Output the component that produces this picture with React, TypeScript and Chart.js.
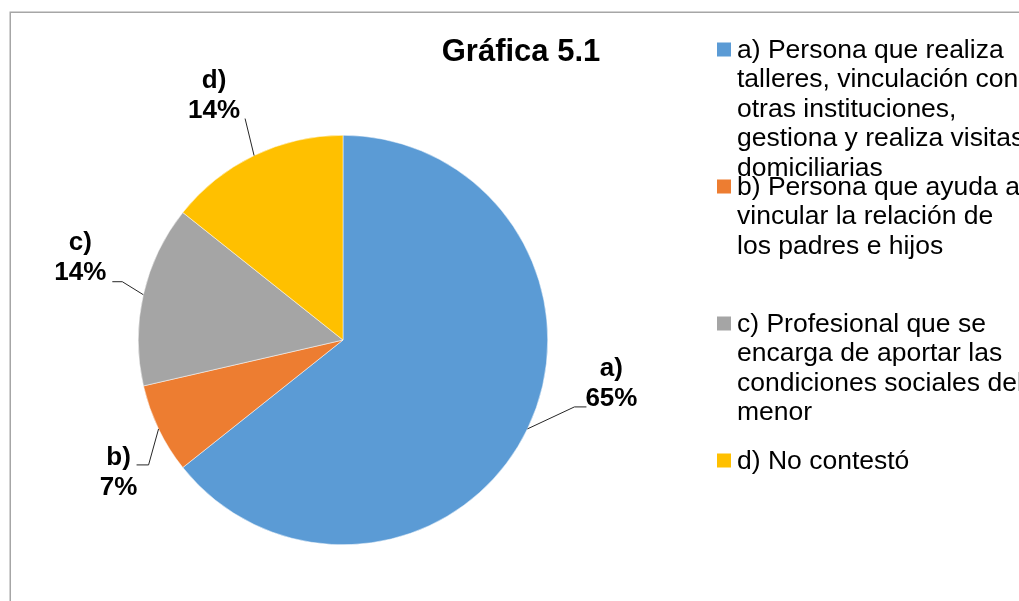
import React, { useEffect, useRef } from "react";
import { Chart, registerables } from "chart.js";

Chart.register(...registerables);

const chartTitle = "Gráfica 5.1";
const categories = [
  "a) Persona que realiza talleres, vinculación con otras instituciones, gestiona y realiza visitas domiciliarias",
  "b) Persona que ayuda a vincular la relación de los padres e hijos",
  "c) Profesional que se encarga de aportar las condiciones sociales del menor",
  "d) No contestó",
];
const shortLabels = ["a)", "b)", "c)", "d)"];
const values = [64.3, 7.1, 14.3, 14.3];
const percentLabels = ["65%", "7%", "14%", "14%"];
const colors = ["#5B9BD5", "#ED7D31", "#A5A5A5", "#FFC000"];

// label block offsets from slice edge mid-point, leader elbow/end relative to label center
const labelOffsets = [
  { dx: 84, dy: -45, ex: -37, ey: 23, hx: -25, hy: 23 },
  { dx: -40, dy: 44, ex: 30, ey: -8, hx: 18, hy: -8 },
  { dx: -63, dy: -37, ex: 42, ey: 24, hx: 32, hy: 24 },
  { dx: -40, dy: -60, ex: 31, ey: 23, hx: 31, hy: 23 },
];

const FONT = "'Liberation Sans', Arial, sans-serif";

function wrap(ctx: CanvasRenderingContext2D, text: string, maxW: number): string[] {
  const words = text.split(" ");
  const lines: string[] = [];
  let line = "";
  for (const w of words) {
    const test = line ? line + " " + w : w;
    if (line && ctx.measureText(test).width > maxW) {
      lines.push(line);
      line = w;
    } else {
      line = test;
    }
  }
  if (line) lines.push(line);
  return lines;
}

const customPlugin = {
  id: "customDecor",
  beforeDraw(chart: any) {
    const ctx = chart.ctx as CanvasRenderingContext2D;
    ctx.save();
    ctx.fillStyle = "#ffffff";
    ctx.fillRect(0, 0, chart.width, chart.height);
    ctx.strokeStyle = "#a6a6a6";
    ctx.lineWidth = 1.5;
    ctx.strokeRect(10.25, 12.25, chart.width + 60, chart.height + 60);
    ctx.restore();
  },
  afterDatasetsDraw(chart: any) {
    const ctx = chart.ctx as CanvasRenderingContext2D;
    const meta = chart.getDatasetMeta(0);
    ctx.save();
    meta.data.forEach((arc: any, i: number) => {
      const p = arc.getProps(["x", "y", "startAngle", "endAngle", "outerRadius"], true);
      const mid = (p.startAngle + p.endAngle) / 2;
      const ex = p.x + Math.cos(mid) * p.outerRadius;
      const ey = p.y + Math.sin(mid) * p.outerRadius;
      const o = labelOffsets[i];
      const lx = ex + o.dx;
      const ly = ey + o.dy;
      ctx.strokeStyle = "#262626";
      ctx.lineWidth = 1;
      ctx.beginPath();
      ctx.moveTo(ex, ey);
      ctx.lineTo(lx + o.ex, ly + o.ey);
      ctx.lineTo(lx + o.hx, ly + o.hy);
      ctx.stroke();
      ctx.fillStyle = "#000000";
      ctx.font = `bold 26px ${FONT}`;
      ctx.textAlign = "center";
      ctx.textBaseline = "middle";
      ctx.fillText(shortLabels[i], lx, ly - 15);
      ctx.fillText(percentLabels[i], lx, ly + 15);
    });
    ctx.restore();
  },
  afterDraw(chart: any) {
    const ctx = chart.ctx as CanvasRenderingContext2D;
    ctx.save();
    ctx.fillStyle = "#000000";
    ctx.font = `bold 31px ${FONT}`;
    ctx.textAlign = "center";
    ctx.textBaseline = "middle";
    ctx.fillText(chartTitle, 521, 52);
    const labels = chart.data.labels as string[];
    const bg = chart.data.datasets[0].backgroundColor as string[];
    ctx.font = `26.5px ${FONT}`;
    ctx.textAlign = "left";
    labels.forEach((lab, i) => {
      const y0 = 49.5 + i * 137;
      ctx.fillStyle = bg[i];
      ctx.fillRect(717, y0 - 7, 14, 14);
      ctx.fillStyle = "#000000";
      const lines = wrap(ctx, lab, 292);
      lines.forEach((ln, k) => {
        ctx.fillText(ln, 737, y0 + 1 + k * 29.5);
      });
    });
    ctx.restore();
  },
};

export default function App() {
  const ref = useRef<HTMLCanvasElement | null>(null);
  useEffect(() => {
    if (!ref.current) return;
    const chart = new Chart(ref.current, {
      type: "pie",
      data: {
        labels: categories,
        datasets: [
          {
            data: values,
            backgroundColor: colors,
            borderColor: "#ffffff",
            borderWidth: 0.5,
          },
        ],
      },
      options: {
        responsive: false,
        animation: false,
        layout: { padding: { left: 138, right: 471, top: 135, bottom: 56 } },
        plugins: {
          legend: { display: false },
          title: { display: false },
          tooltip: { enabled: false },
        },
      },
      plugins: [customPlugin],
    } as any);
    return () => chart.destroy();
  }, []);
  return (
    <canvas
      ref={ref}
      width={1019}
      height={601}
      style={{ position: "fixed", left: 0, top: 0, width: 1019, height: 601, display: "block" }}
    />
  );
}
